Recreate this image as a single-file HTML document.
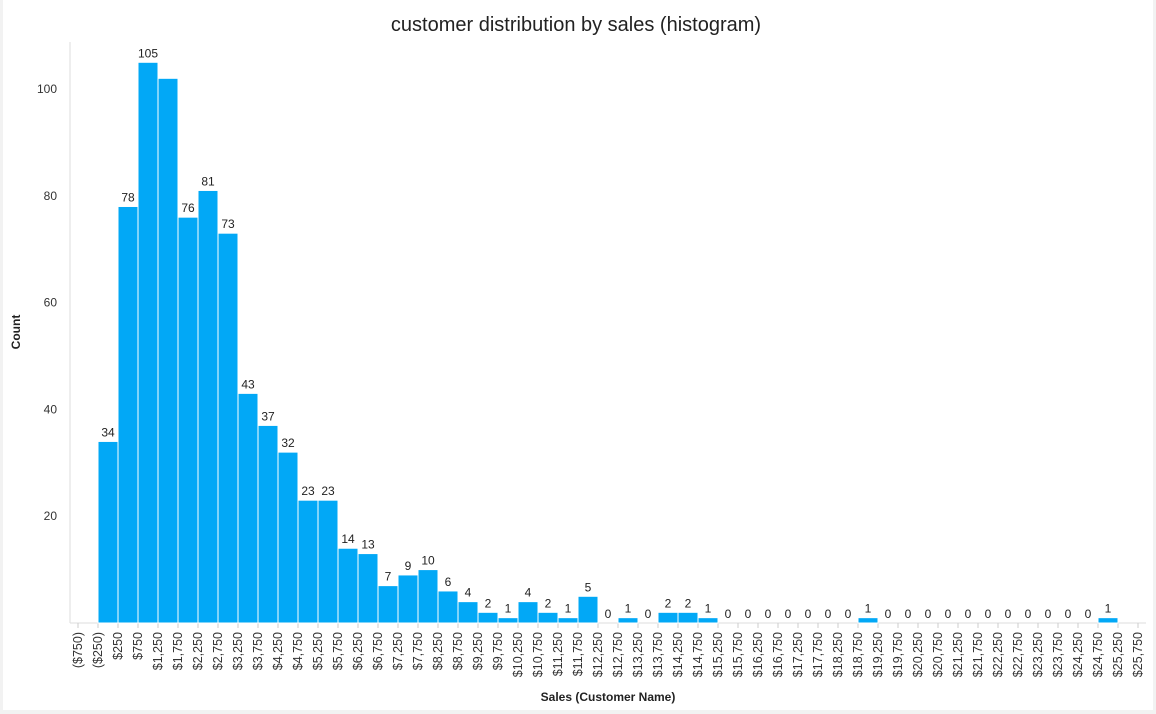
<!DOCTYPE html>
<html><head><meta charset="utf-8"><style>
body{margin:0;background:#f2f2f2;font-family:"Liberation Sans",sans-serif}
#wrap{position:absolute;left:3px;top:0;width:1150px;height:710px;background:#fff}
</style></head><body>
<div id="wrap"></div>
<svg id="chart" width="1156" height="714" style="position:absolute;left:0;top:0"></svg>
<script>
const binStarts=[-250,250,750,1250,1750,2250,2750,3250,3750,4250,4750,5250,5750,6250,6750,7250,7750,8250,8750,9250,9750,10250,10750,11250,11750,12250,12750,13250,13750,14250,14750,15250,15750,16250,16750,17250,17750,18250,18750,19250,19750,20250,20750,21250,21750,22250,22750,23250,23750,24250,24750];
const counts=[34,78,105,102,76,81,73,43,37,32,23,23,14,13,7,9,10,6,4,2,1,4,2,1,5,0,1,0,2,2,1,0,0,0,0,0,0,0,1,0,0,0,0,0,0,0,0,0,0,0,1];
const hiddenLabelBins=[1250];
const yTicks=[20,40,60,80,100];
const binWidth=500;
const xMin=-750, xMax=25750;
const ns="http://www.w3.org/2000/svg";
const svg=document.getElementById('chart');
const X0=78,PX=20/500, Y0=623, PY=5.34;
const xs=v=>X0+(v-xMin)*PX, ys=v=>Y0-v*PY;
function mk(t,a,txt){const e=document.createElementNS(ns,t);for(const k in a)e.setAttribute(k,a[k]);if(txt!==undefined)e.textContent=txt;svg.appendChild(e);return e;}
function fmt(v){const s='$'+Math.abs(v).toLocaleString('en-US');return v<0?'('+s+')':s;}
let t=mk('text',{x:576,y:31,'text-anchor':'middle','font-size':20,fill:'#222'},'customer distribution by sales (histogram)');


let ax=mk('line',{x1:70,y1:42,x2:70,y2:623,stroke:'#ddd'});


let bx=mk('line',{x1:70,y1:623,x2:1146,y2:623,stroke:'#ddd'});


yTicks.forEach(v=>{
 const e=mk('text',{x:57,y:ys(v)+4,'text-anchor':'end','font-size':12,fill:'#333'},v);
 
 
});
let yt=mk('text',{x:20,y:332,'text-anchor':'middle','font-size':12,'font-weight':'bold',fill:'#222',transform:'rotate(-90 20 332)'},'Count');


for(let v=xMin;v<=xMax;v+=binWidth){
 const x=xs(v);
 const tk=mk('line',{x1:x,y1:623,x2:x,y2:628,stroke:'#ccc'});
 
 
 const e=mk('text',{x:x+4,y:632,'text-anchor':'end','font-size':12.5,fill:'#333',transform:`rotate(-90 ${x+4} 632)`},fmt(v));
 
 
}
binStarts.forEach((s,i)=>{
 const x=xs(s), w=binWidth*PX, c=counts[i];
 if(c>0){
  const r=mk('rect',{x:x,y:ys(c),width:w,height:c*PY,fill:'#02a8f6',stroke:'#fff','stroke-width':1});
  
  
 }
 if(hiddenLabelBins.includes(s)) return;
 const l=mk('text',{x:x+w/2,y:ys(c)-5,'text-anchor':'middle','font-size':12,fill:'#222'},c);
 
 
});
let xt=mk('text',{x:608,y:701,'text-anchor':'middle','font-size':12,'font-weight':'bold',fill:'#222'},'Sales (Customer Name)');


</script>
</body></html>
